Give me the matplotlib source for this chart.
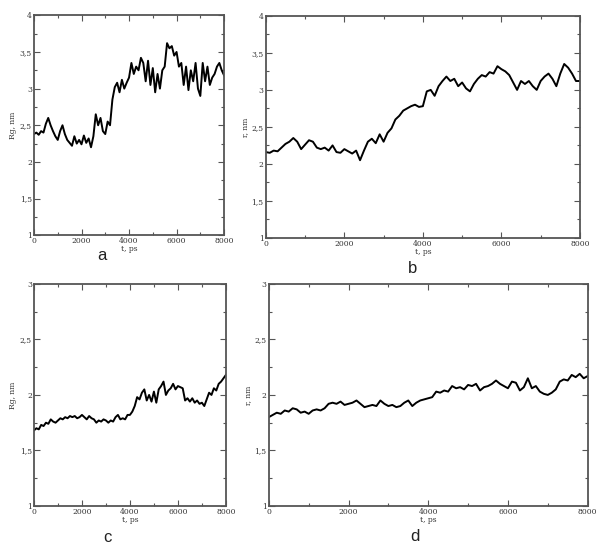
import matplotlib
matplotlib.use("Agg")
import matplotlib.pyplot as plt
from matplotlib.ticker import MultipleLocator, FuncFormatter

# time axis, ps (100 ps step)
t = list(range(0, 8001, 100))

rg_a = [2.38, 2.40, 2.37, 2.42, 2.40, 2.52, 2.60, 2.50, 2.42, 2.35,
        2.30, 2.42, 2.50, 2.38, 2.30, 2.26, 2.22, 2.35, 2.25, 2.30,
        2.24, 2.36, 2.26, 2.32, 2.20, 2.35, 2.65, 2.50, 2.60, 2.42,
        2.38, 2.55, 2.50, 2.85, 3.02, 3.08, 2.95, 3.12, 3.00, 3.08,
        3.15, 3.35, 3.20, 3.30, 3.25, 3.42, 3.35, 3.10, 3.38, 3.05,
        3.28, 2.95, 3.20, 3.00, 3.25, 3.30, 3.62, 3.55, 3.58, 3.45,
        3.50, 3.30, 3.35, 3.05, 3.30, 2.98, 3.25, 3.10, 3.35, 3.00,
        2.90, 3.35, 3.10, 3.30, 3.05, 3.15, 3.20, 3.30, 3.35, 3.25,
        3.18]

r_b = [2.16, 2.15, 2.18, 2.17, 2.22, 2.27, 2.30, 2.35, 2.30, 2.20,
       2.26, 2.32, 2.30, 2.22, 2.20, 2.22, 2.18, 2.25, 2.16, 2.15,
       2.20, 2.17, 2.14, 2.18, 2.05, 2.18, 2.30, 2.34, 2.28, 2.40,
       2.30, 2.42, 2.48, 2.60, 2.65, 2.72, 2.75, 2.78, 2.80, 2.77,
       2.78, 2.98, 3.00, 2.92, 3.05, 3.12, 3.18, 3.12, 3.15, 3.05,
       3.10, 3.02, 2.98, 3.08, 3.15, 3.20, 3.18, 3.24, 3.22, 3.32,
       3.28, 3.25, 3.20, 3.10, 3.00, 3.12, 3.08, 3.12, 3.05, 3.00,
       3.12, 3.18, 3.22, 3.15, 3.05, 3.22, 3.35, 3.30, 3.22, 3.12,
       3.12]

rg_c = [1.68, 1.70, 1.69, 1.73, 1.72, 1.75, 1.74, 1.78, 1.76, 1.75,
        1.77, 1.79, 1.78, 1.80, 1.79, 1.81, 1.80, 1.81, 1.79, 1.80,
        1.82, 1.80, 1.78, 1.81, 1.79, 1.78, 1.75, 1.77, 1.76, 1.78,
        1.77, 1.75, 1.77, 1.76, 1.80, 1.82, 1.78, 1.79, 1.78, 1.82,
        1.82, 1.85, 1.90, 1.98, 1.96, 2.02, 2.05, 1.95, 2.00, 1.94,
        2.03, 1.93, 2.05, 2.08, 2.12, 2.00, 2.04, 2.06, 2.10, 2.05,
        2.08, 2.07, 2.06, 1.95, 1.97, 1.94, 1.97, 1.93, 1.95, 1.92,
        1.93, 1.90, 1.96, 2.02, 2.00, 2.06, 2.04, 2.10, 2.12, 2.15,
        2.18]

r_d = [1.80, 1.82, 1.84, 1.83, 1.86, 1.85, 1.88, 1.87, 1.84, 1.85,
       1.83, 1.86, 1.87, 1.86, 1.88, 1.92, 1.93, 1.92, 1.94, 1.91,
       1.92, 1.93, 1.95, 1.92, 1.89, 1.90, 1.91, 1.90, 1.95, 1.92,
       1.90, 1.91, 1.89, 1.90, 1.93, 1.95, 1.90, 1.93, 1.95, 1.96,
       1.97, 1.98, 2.03, 2.02, 2.04, 2.03, 2.08, 2.06, 2.07, 2.05,
       2.09, 2.08, 2.10, 2.04, 2.07, 2.08, 2.10, 2.13, 2.10, 2.08,
       2.06, 2.12, 2.11, 2.04, 2.07, 2.15, 2.06, 2.08, 2.03, 2.01,
       2.00, 2.02, 2.05, 2.12, 2.14, 2.13, 2.18, 2.16, 2.19, 2.15,
       2.17]

panels = [
    # data, ylabel, ymax, axes rect, letter pos
    (rg_a, "Rg, nm", 4, [0.057, 0.570, 0.319, 0.402], (0.171, 0.519), "a"),
    (r_b, "r, nm", 4, [0.446, 0.565, 0.527, 0.406], (0.693, 0.496), "b"),
    (rg_c, "Rg, nm", 3, [0.057, 0.075, 0.322, 0.406], (0.181, 0.003), "c"),
    (r_d, "r, nm", 3, [0.451, 0.075, 0.535, 0.406], (0.697, 0.005), "d"),
]

fig = plt.figure(figsize=(5.96, 5.47), dpi=100)

def comma(v, pos):
    s = ("%g" % v).replace(".", ",")
    return s

for y, ylab, ymax, rect, lpos, letter in panels:
    ax = fig.add_axes(rect)
    ax.plot(t, y, color="black", lw=1.4)
    ax.set_xlim(0, 8000)
    ax.set_ylim(1, ymax)
    ax.xaxis.set_major_locator(MultipleLocator(2000))
    ax.xaxis.set_minor_locator(MultipleLocator(1000))
    ax.yaxis.set_major_locator(MultipleLocator(0.5))
    ax.yaxis.set_minor_locator(MultipleLocator(0.25))
    ax.yaxis.set_major_formatter(FuncFormatter(comma))
    ax.tick_params(which="both", direction="in", top=True, right=True,
                   color="#555555", labelsize=5.5, pad=1.5, labelcolor="#333333")
    ax.tick_params(which="major", length=4, width=0.8)
    ax.tick_params(which="minor", length=2, width=0.8)
    for lab in ax.get_xticklabels() + ax.get_yticklabels():
        lab.set_family("DejaVu Serif")
    for sp in ax.spines.values():
        sp.set_linewidth(1.3)
        sp.set_color("#555555")
    ax.set_xlabel("t, ps", fontsize=5.5, family="DejaVu Serif", labelpad=0,
                  color="#333333")
    ax.set_ylabel(ylab, fontsize=5.5, family="DejaVu Serif", labelpad=2,
                  color="#333333")
    fig.text(lpos[0], lpos[1], letter, fontsize=12, family="Liberation Sans",
             ha="center", va="bottom", color="#222222")

fig.savefig("out.png", dpi=100)
